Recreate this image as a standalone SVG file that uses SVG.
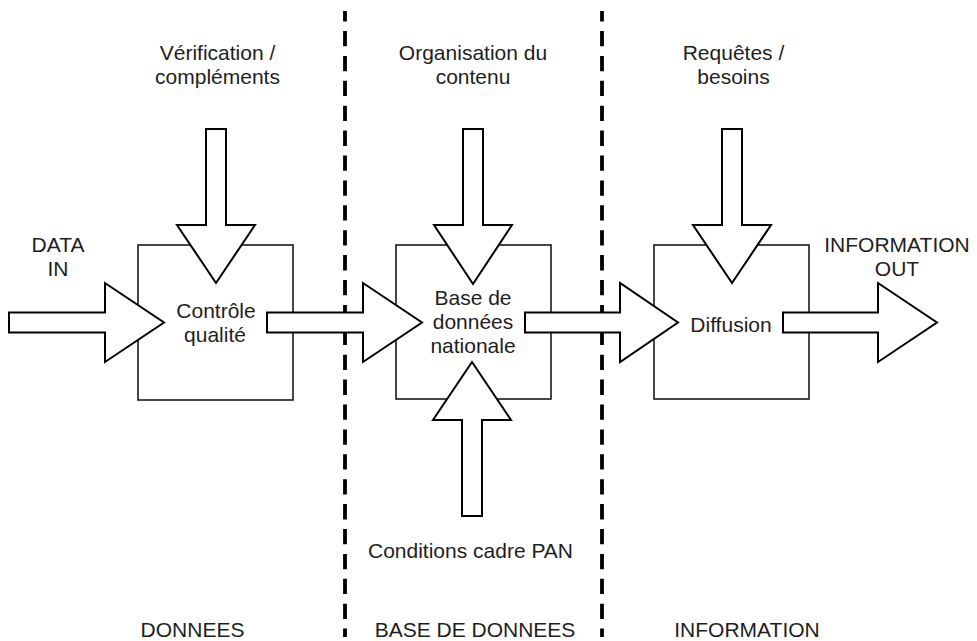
<svg xmlns="http://www.w3.org/2000/svg" width="977" height="641" viewBox="0 0 977 641">
  <style>
    .bg { fill: #ffffff; }
    .box { fill: #ffffff; stroke: #1a1a1a; stroke-width: 1.6; }
    .arrow { fill: #ffffff; stroke: #000000; stroke-width: 2; stroke-linejoin: miter; }
    .divider { stroke: #000000; stroke-width: 3.8; stroke-dasharray: 15.3 9.6; stroke-dashoffset: 4.9; fill: none; }
    text { font-family: "Liberation Sans", Arial, sans-serif; font-size: 21px; fill: #1e1e1e; text-anchor: middle; }
  </style>

  <rect class="bg" x="0" y="0" width="977" height="641"/>

  <!-- phase dividers -->
  <g id="dividers">
    <line class="divider" x1="345" y1="11" x2="345" y2="637"/>
    <line class="divider" x1="602" y1="11" x2="602" y2="637"/>
  </g>

  <!-- process boxes -->
  <g id="node-controle">
    <rect class="box" x="138" y="245" width="155" height="155"/>
  </g>
  <g id="node-base">
    <rect class="box" x="396" y="245" width="155" height="154"/>
  </g>
  <g id="node-diffusion">
    <rect class="box" x="654" y="245" width="155" height="154"/>
  </g>

  <!-- block arrows -->
  <g id="connectors">
    <!-- data in -->
    <polygon class="arrow" points="9,312.5 105,312.5 105,283 164,322.5 105,362 105,332.5 9,332.5"/>
    <!-- controle -> base -->
    <polygon class="arrow" points="267,312.5 363,312.5 363,283 422,322.5 363,362 363,332.5 267,332.5"/>
    <!-- base -> diffusion -->
    <polygon class="arrow" points="525,312.5 620,312.5 620,283 678,322.5 620,362 620,332.5 525,332.5"/>
    <!-- information out -->
    <polygon class="arrow" points="783,312.5 878,312.5 878,283 937,322.5 878,362 878,332.5 783,332.5"/>

    <!-- verification -> controle -->
    <polygon class="arrow" points="206,129 226,129 226,225 255,225 216,283 177,225 206,225"/>
    <!-- organisation -> base -->
    <polygon class="arrow" points="463,129 483,129 483,225 512,225 473,284 434,225 463,225"/>
    <!-- requetes -> diffusion -->
    <polygon class="arrow" points="722,129 742,129 742,225 771,225 732,283 693,225 722,225"/>
    <!-- conditions cadre -> base -->
    <polygon class="arrow" points="462,516 482,516 482,420 511,420 472,362 433,420 462,420"/>
  </g>

  <!-- box labels -->
  <g id="labels-nodes">
    <text x="216" y="318">Contrôle</text>
    <text x="215" y="342">qualité</text>
    <text x="473" y="305">Base de</text>
    <text x="473" y="329">données</text>
    <text x="473" y="353">nationale</text>
    <text x="731" y="332">Diffusion</text>
  </g>

  <!-- input / output labels -->
  <g id="labels-flows">
    <text x="217.5" y="60">Vérification /</text>
    <text x="217.5" y="84">compléments</text>
    <text x="473" y="60">Organisation du</text>
    <text x="473" y="84">contenu</text>
    <text x="733.5" y="60">Requêtes /</text>
    <text x="733.5" y="84">besoins</text>
    <text x="58" y="252">DATA</text>
    <text x="58" y="276">IN</text>
    <text x="897" y="252">INFORMATION</text>
    <text x="897" y="276">OUT</text>
    <text x="470.5" y="558">Conditions cadre PAN</text>
  </g>

  <!-- phase titles -->
  <g id="labels-phases">
    <text x="192.5" y="637">DONNEES</text>
    <text x="475" y="637">BASE DE DONNEES</text>
    <text x="747" y="637">INFORMATION</text>
  </g>
</svg>
